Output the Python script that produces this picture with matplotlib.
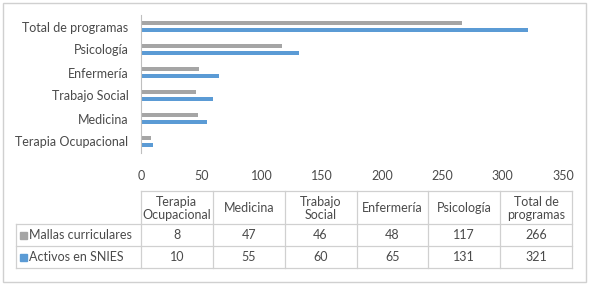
import matplotlib.pyplot as plt
from matplotlib.patches import Rectangle

categorias = ["Terapia Ocupacional", "Medicina", "Trabajo Social",
              "Enfermería", "Psicología", "Total de programas"]
encabezados = ["Terapia\nOcupacional", "Medicina", "Trabajo\nSocial",
               "Enfermería", "Psicología", "Total de\nprogramas"]
mallas = [8, 47, 46, 48, 117, 266]
activos = [10, 55, 60, 65, 131, 321]
series = ["Mallas curriculares", "Activos en SNIES"]

gris = "#a5a5a5"
azul = "#5b9bd5"
texto = "#4a4a4a"
borde = "#d0d0d0"
fs = 9

plt.rcParams["font.family"] = ["Lato", "DejaVu Sans"]

W, H = 589, 285
fig = plt.figure(figsize=(W / 100, H / 100), dpi=100)

# grafico de barras
ax = fig.add_axes([141 / W, 1 - 153 / H, (563 - 141) / W, (153 - 15) / H])
y = list(range(len(categorias)))
ax.barh([v + 0.15 for v in y], mallas, height=0.19, color=gris)
ax.barh([v - 0.15 for v in y], activos, height=0.19, color=azul)
ax.set_xlim(0, 350)
ax.set_ylim(-0.5, 5.5)
ax.set_xticks(range(0, 351, 50))
ax.set_yticks(y)
ax.set_yticklabels(categorias)
ax.tick_params(axis="both", length=0, colors=texto, labelsize=fs)
ax.tick_params(axis="x", pad=12)
ax.tick_params(axis="y", pad=9)
for s in ["top", "right", "bottom"]:
    ax.spines[s].set_visible(False)
ax.spines["left"].set_color("#bfbfbf")

# tabla de datos (coordenadas en pixeles de la figura)
tx0, tlab, tx1 = 16, 141, 572
ty0, ty_h, ty1 = 191, 224, 268
tax = fig.add_axes([0, 0, 1, 1])
tax.set_xlim(0, W)
tax.set_ylim(H, 0)
tax.axis("off")
n = len(categorias)
ancho = (tx1 - tlab) / n
alto = (ty1 - ty_h) / 2
lw = 0.9
# lineas horizontales
tax.plot([tlab, tx1], [ty0, ty0], color=borde, lw=lw)
for k in range(3):
    yy = ty_h + k * alto
    tax.plot([tx0, tx1], [yy, yy], color=borde, lw=lw)
# lineas verticales
tax.plot([tx0, tx0], [ty_h, ty1], color=borde, lw=lw)
for j in range(n + 1):
    xx = tlab + j * ancho
    tax.plot([xx, xx], [ty0, ty1], color=borde, lw=lw)
# encabezados
for j, h in enumerate(encabezados):
    tax.text(tlab + (j + 0.5) * ancho, (ty0 + ty_h) / 2 + 1, h, ha="center",
             va="center", fontsize=fs, color=texto, linespacing=1.15)
# filas
for i, (nombre, vals, col) in enumerate(zip(series, [mallas, activos], [gris, azul])):
    yc = ty_h + (i + 0.5) * alto
    tax.add_patch(Rectangle((tx0 + 4, yc - 3), 6.5, 6.5, color=col))
    tax.text(tx0 + 13, yc, nombre, ha="left", va="center", fontsize=fs,
             color=texto)
    for j, v in enumerate(vals):
        tax.text(tlab + (j + 0.5) * ancho, yc, str(v), ha="center",
                 va="center", fontsize=fs, color=texto)

# borde exterior
tax.add_patch(Rectangle((3, 3), 583, 279, fill=False, edgecolor=borde, lw=1))

fig.savefig("out.png", dpi=100)
